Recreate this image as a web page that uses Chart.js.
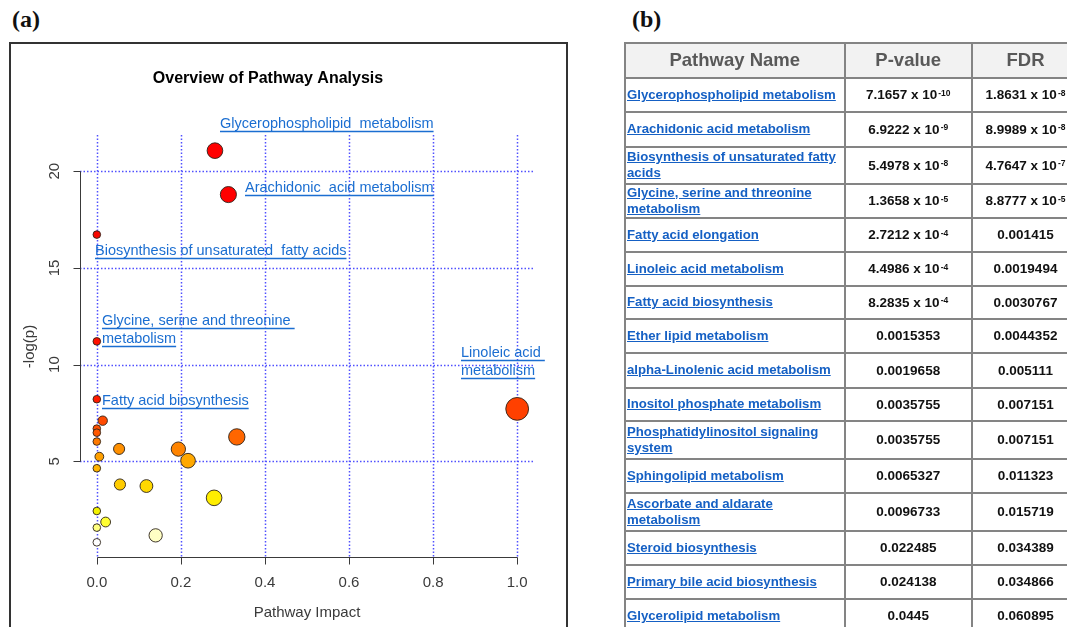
<!DOCTYPE html>
<html>
<head>
<meta charset="utf-8">
<title>Pathway analysis overview</title>
<script src="https://cdn.jsdelivr.net/npm/chart.js@4.4.1/dist/chart.umd.min.js"></script>
<style>
  html, body { margin: 0; padding: 0; background: #fff; width: 1067px; height: 627px; overflow: hidden; position: relative; }
  .tag { position: absolute; top: 6px; font: bold 24px "Liberation Serif", "Times New Roman", serif; color: #111; }
  #frameA { position: absolute; left: 9px; top: 42px; width: 559px; height: 640px; border: 2px solid #333; box-sizing: border-box; }
  #wrapA { position: absolute; left: 0; top: 0; width: 600px; height: 627px; }
  #tableB { position: absolute; left: 0; top: 0; width: 1067px; height: 627px; }
  .rule { position: absolute; background: #848484; }
  .cell { position: absolute; display: flex; align-items: center; box-sizing: border-box; font-family: "Liberation Sans", Arial, sans-serif; }
  .head { background: #f2f2f2; justify-content: center; font-weight: bold; font-size: 18.5px; color: #595959; }
  .name { justify-content: flex-start; padding-left: 1px; }
  .name a { color: #1560c4; font-weight: bold; font-size: 13.2px; line-height: 16px; text-decoration: underline; text-underline-offset: 1px; }
  .num { justify-content: center; font-weight: bold; font-size: 13.5px; color: #111; white-space: nowrap; }
  .num sup { font-size: 8.5px; position: relative; top: -2px; margin-left: 1px; }
</style>
</head>
<body>
<div class="tag" style="left:12px;">(a)</div>
<div class="tag" style="left:632px;">(b)</div>
<div id="frameA"></div>
<div id="wrapA"><canvas id="overview" width="600" height="627"></canvas></div>
<div id="tableB"></div>
<script>
// ---- scatter: pathway impact vs -log(p) ----
const pathwayImpact = [0.281, 0.313, 0, 0, 0, 1.0, 0.014, 0, 0, 0.333, 0, 0.053, 0.194, 0.006, 0.217, 0, 0.055, 0.118, 0.279, 0, 0.021, 0, 0.14, 0];
const negLogP = [21.06, 18.79, 16.72, 11.20, 8.21, 7.71, 7.10, 6.69, 6.48, 6.26, 6.02, 5.64, 5.63, 5.24, 5.03, 4.64, 3.80, 3.72, 3.11, 2.43, 1.86, 1.57, 1.17, 0.81];
const xTicks = [0, 0.2, 0.4, 0.6, 0.8, 1.0];
const xTickLabels = ["0.0", "0.2", "0.4", "0.6", "0.8", "1.0"];
const yTicks = [5, 10, 15, 20];
const yTickLabels = ["5", "10", "15", "20"];

// annotated pathways: point index and text lines
const labelPoint = [0, 1, 2, 3, 4, 5];
const labelLines = [
  ["Glycerophospholipid  metabolism"],
  ["Arachidonic  acid metabolism"],
  ["Biosynthesis of unsaturated  fatty acids"],
  ["Glycine, serine and threonine ", "metabolism"],
  ["Fatty acid biosynthesis"],
  ["Linoleic acid ", "metabolism"]
];

// ---- table: enriched pathways ----
const pathwayNames = [
  "Glycerophospholipid metabolism",
  "Arachidonic acid metabolism",
  "Biosynthesis of unsaturated fatty acids",
  "Glycine, serine and threonine metabolism",
  "Fatty acid elongation",
  "Linoleic acid metabolism",
  "Fatty acid biosynthesis",
  "Ether lipid metabolism",
  "alpha-Linolenic acid metabolism",
  "Inositol phosphate metabolism",
  "Phosphatidylinositol signaling system",
  "Sphingolipid metabolism",
  "Ascorbate and aldarate metabolism",
  "Steroid biosynthesis",
  "Primary bile acid biosynthesis",
  "Glycerolipid metabolism"
];
const pValues = ["7.1657 x 10^-10", "6.9222 x 10^-9", "5.4978 x 10^-8", "1.3658 x 10^-5", "2.7212 x 10^-4", "4.4986 x 10^-4", "8.2835 x 10^-4", "0.0015353", "0.0019658", "0.0035755", "0.0035755", "0.0065327", "0.0096733", "0.022485", "0.024138", "0.0445"];
const fdrValues = ["1.8631 x 10^-8", "8.9989 x 10^-8", "4.7647 x 10^-7", "8.8777 x 10^-5", "0.001415", "0.0019494", "0.0030767", "0.0044352", "0.005111", "0.007151", "0.007151", "0.011323", "0.015719", "0.034389", "0.034866", "0.060895"];
const tableHeaders = ["Pathway Name", "P-value", "FDR"];

// ---- styling ----
const pointFill = ["#ff0000", "#ff0000", "#f80800", "#ff1000", "#ff1a00", "#ff4000", "#ff4a00", "#ff5000", "#ff5800", "#ff6600", "#ff7a00", "#ff9000", "#ff8400", "#ffa000", "#ffa800", "#ffb400", "#ffcc00", "#ffd800", "#ffee00", "#f2f200", "#ffff33", "#ffff80", "#ffffc4", "#ffffff"];
// label placement relative to its point, in pixels: [dx, dy of first line]
const labelOffset = [[5.5, -27], [16.5, -6.5], [-2, 16.5], [5, -20.5], [5, 2], [-56, -56]];
const labelLineGap = 18;
const labelColor = "#1b6ed1";
const labelFont = '14.5px "Liberation Sans", Arial, sans-serif';
const axisFont = '15px "Liberation Sans", Arial, sans-serif';
const axisColor = "#3a3a3a";
const gridColor = "#5050ff";

// dotted reference grid at the tick values
const dottedGrid = {
  id: "dottedGrid",
  beforeDatasetsDraw(chart) {
    const { ctx, chartArea, scales: { x, y } } = chart;
    ctx.save();
    ctx.strokeStyle = gridColor;
    ctx.lineWidth = 1.5;
    ctx.setLineDash([1.5, 2]);
    ctx.beginPath();
    xTicks.forEach(v => {
      const p = Math.round(x.getPixelForValue(v)) + 0.5;
      ctx.moveTo(p, chartArea.top); ctx.lineTo(p, chartArea.bottom);
    });
    yTicks.forEach(v => {
      const p = Math.round(y.getPixelForValue(v)) + 0.5;
      ctx.moveTo(chartArea.left, p); ctx.lineTo(chartArea.right, p);
    });
    ctx.stroke();
    ctx.restore();
  }
};

const rAxes = {
  id: "rAxes",
  afterDatasetsDraw(chart) {
    const { ctx, chartArea, scales: { x, y } } = chart;
    ctx.save();
    // axis lines and ticks
    ctx.strokeStyle = axisColor;
    ctx.lineWidth = 1;
    ctx.setLineDash([]);
    const ax = Math.round(chartArea.left) + 0.5;
    const ay = Math.round(chartArea.bottom) - 0.5;
    ctx.beginPath();
    ctx.moveTo(ax, Math.round(y.getPixelForValue(yTicks[0])) + 0.5);
    ctx.lineTo(ax, Math.round(y.getPixelForValue(yTicks[yTicks.length - 1])) + 0.5);
    yTicks.forEach(v => {
      const p = Math.round(y.getPixelForValue(v)) + 0.5;
      ctx.moveTo(ax, p); ctx.lineTo(ax - 7, p);
    });
    ctx.moveTo(Math.round(x.getPixelForValue(xTicks[0])) + 0.5, ay);
    ctx.lineTo(Math.round(x.getPixelForValue(xTicks[xTicks.length - 1])) + 0.5, ay);
    xTicks.forEach(v => {
      const p = Math.round(x.getPixelForValue(v)) + 0.5;
      ctx.moveTo(p, ay); ctx.lineTo(p, ay + 7);
    });
    ctx.stroke();

    // tick labels
    ctx.fillStyle = axisColor;
    ctx.font = axisFont;
    ctx.textAlign = "center";
    ctx.textBaseline = "middle";
    xTicks.forEach((v, i) => ctx.fillText(xTickLabels[i], x.getPixelForValue(v), ay + 25.5));
    yTicks.forEach((v, i) => {
      ctx.save();
      ctx.translate(ax - 25.5, y.getPixelForValue(v));
      ctx.rotate(-Math.PI / 2);
      ctx.fillText(yTickLabels[i], 0, 0);
      ctx.restore();
    });

    // axis titles
    ctx.fillText("Pathway Impact", (chartArea.left + chartArea.right) / 2, 613);
    ctx.save();
    ctx.translate(30, (chartArea.top + chartArea.bottom) / 2);
    ctx.rotate(-Math.PI / 2);
    ctx.fillText("-log(p)", 0, 0);
    ctx.restore();

    // main title
    ctx.fillStyle = "#000";
    ctx.font = 'bold 16px "Liberation Sans", Arial, sans-serif';
    ctx.fillText("Overview of Pathway Analysis", 268, 79);

    // pathway annotations, underlined
    ctx.font = labelFont;
    ctx.textAlign = "left";
    ctx.fillStyle = labelColor;
    ctx.strokeStyle = labelColor;
    ctx.lineWidth = 1.3;
    labelPoint.forEach((idx, k) => {
      const px = x.getPixelForValue(pathwayImpact[idx]);
      const py = y.getPixelForValue(negLogP[idx]);
      const [dx, dy] = labelOffset[k];
      labelLines[k].forEach((line, j) => {
        const lx = Math.round(px + dx);
        const ly = py + dy + j * labelLineGap;
        ctx.fillText(line, lx, ly);
        const w = ctx.measureText(line).width;
        const uy = Math.round(ly + 7) + 0.5;
        ctx.beginPath();
        ctx.moveTo(lx, uy); ctx.lineTo(lx + w, uy);
        ctx.stroke();
      });
    });
    ctx.restore();
  }
};

const radiusFor = ctx => 3.8 + 7.6 * Math.sqrt(pathwayImpact[ctx.dataIndex] || 0);

new Chart(document.getElementById("overview"), {
  type: "scatter",
  data: {
    datasets: [{
      data: pathwayImpact.map((v, i) => ({ x: v, y: negLogP[i] })),
      pointRadius: radiusFor,
      pointHoverRadius: radiusFor,
      pointBackgroundColor: pointFill,
      pointBorderColor: "rgba(45,35,25,0.9)",
      pointBorderWidth: 1,
      showLine: false
    }]
  },
  options: {
    responsive: false,
    animation: false,
    devicePixelRatio: 1,
    events: [],
    layout: { padding: { left: 80, right: 66, top: 135, bottom: 69 } },
    plugins: { legend: { display: false }, tooltip: { enabled: false }, title: { display: false } },
    scales: {
      x: {
        type: "linear", min: -0.04, max: 1.04,
        afterBuildTicks: s => { s.ticks = xTicks.map(v => ({ value: v })); },
        afterFit: s => { s.height = 0; },
        ticks: { display: false },
        grid: { display: false },
        border: { display: false }
      },
      y: {
        type: "linear", min: 0, max: 21.87,
        afterBuildTicks: s => { s.ticks = yTicks.map(v => ({ value: v })); },
        afterFit: s => { s.width = 0; },
        ticks: { display: false },
        grid: { display: false },
        border: { display: false }
      }
    }
  },
  plugins: [dottedGrid, rAxes]
});

// ---- table layout ----
const colEdges = [625, 844.5, 972, 1079];
const tableTop = 42.7;
const rowHeights = [35, 34, 35, 37, 34, 34, 34, 33, 34, 35, 33, 38, 34, 38, 34, 34, 34];
const host = document.getElementById("tableB");

function numberHTML(s) {
  const parts = s.split("^");
  return parts.length > 1 ? parts[0] + "<sup>" + parts[1] + "</sup>" : s;
}
function addCell(cls, left, top, w, h, html) {
  const d = document.createElement("div");
  d.className = "cell " + cls;
  d.style.left = left + "px"; d.style.top = top + "px";
  d.style.width = w + "px"; d.style.height = h + "px";
  d.innerHTML = html;
  host.appendChild(d);
}
const rowEdges = [tableTop];
rowHeights.forEach(h => rowEdges.push(rowEdges[rowEdges.length - 1] + h));

for (let r = 0; r < rowHeights.length; r++) {
  const top = rowEdges[r] + 1, h = rowHeights[r] - 2;
  for (let c = 0; c < 3; c++) {
    const left = colEdges[c] + 1, w = colEdges[c + 1] - colEdges[c] - 2;
    if (r === 0) {
      addCell("head", left - 1, top - 1, w + 2, h + 2, tableHeaders[c]);
    } else if (c === 0) {
      addCell("name", left, top, 216, h, '<a href="#">' + pathwayNames[r - 1] + "</a>");
    } else {
      const s = c === 1 ? pValues[r - 1] : fdrValues[r - 1];
      addCell("num", left, top, w, h, numberHTML(s));
    }
  }
}
rowEdges.forEach(yv => {
  const d = document.createElement("div");
  d.className = "rule";
  d.style.left = (colEdges[0] - 1) + "px"; d.style.top = (yv - 1) + "px";
  d.style.width = (colEdges[3] - colEdges[0] + 2) + "px"; d.style.height = "2px";
  host.appendChild(d);
});
colEdges.forEach(xv => {
  const d = document.createElement("div");
  d.className = "rule";
  d.style.left = (xv - 1) + "px"; d.style.top = (tableTop - 1) + "px";
  d.style.width = "2px"; d.style.height = (rowEdges[rowEdges.length - 1] - tableTop + 2) + "px";
  host.appendChild(d);
});
</script>
</body>
</html>
